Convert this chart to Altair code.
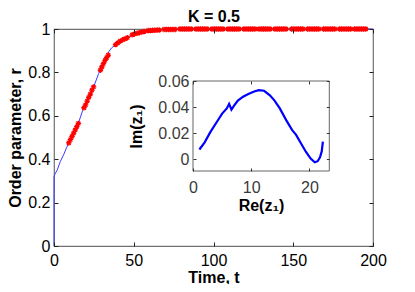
import altair as alt
import pandas as pd

FONT = "Liberation Sans"

# ---- main curve: order parameter r vs time t ----
line_t = [0, 0, 0, 0.5, 2, 4, 6, 8, 10, 12, 15, 18, 20, 22, 25, 28, 30, 32, 34.3, 36,
          38.5, 41, 44, 47, 50, 55, 60, 65, 70, 80, 200]
line_r = [0, 0.19, 0.32, 0.33, 0.35, 0.39, 0.42, 0.455, 0.49, 0.52, 0.56, 0.625, 0.655,
          0.69, 0.736, 0.795, 0.825, 0.855, 0.895, 0.912, 0.927, 0.94, 0.952, 0.962,
          0.975, 0.986, 0.993, 0.997, 0.999, 1.0, 1.0]

# ---- red markers ----
marker_t = [
    9.3, 10.3, 11.3, 12.3, 13.3, 14.3, 15.3,
    18.8, 19.8, 20.8, 21.8, 22.8, 23.8, 24.8,
    29.1, 30, 31, 32, 33, 34,
    38.6, 40, 41.5, 43, 44.5, 46,
    49, 50.5, 52, 53.5, 55, 56.5,
    59, 60.4, 61.8, 63.2, 64.6, 66,
    69, 70.4, 71.8, 73.2, 74.6, 76,
    79, 80.4, 81.8, 83.2, 84.6, 86,
    89, 90.4, 91.8, 93.2, 94.6, 96,
    99, 100.4, 101.8, 103.2, 104.6, 106,
    109, 110.4, 111.8, 113.2, 114.6, 116,
    119, 120.4, 121.8, 123.2, 124.6, 126,
    128.5, 129.9, 131.3, 132.7, 134.1, 135.5,
    138.5, 139.9, 141.3, 142.7, 144.1, 145.5,
    149, 150.4, 151.8, 153.2, 154.6, 156,
    159, 160.4, 161.8, 163.2, 164.6, 166,
    169, 170.4, 171.8, 173.2, 174.6, 176,
    179, 180.4, 181.8, 183.2, 184.6, 186,
    188.5, 189.9, 191.3, 192.7, 194.1, 195.5,
]
marker_r = [
    0.475, 0.49, 0.505, 0.52, 0.535, 0.55, 0.565,
    0.637, 0.65, 0.668, 0.685, 0.70, 0.718, 0.733,
    0.81, 0.825, 0.84, 0.855, 0.868, 0.88,
    0.928, 0.936, 0.944, 0.95, 0.955, 0.96,
    0.973, 0.977, 0.98, 0.983, 0.986, 0.988,
    0.993, 0.993, 0.994, 0.994, 0.995, 0.995,
    0.998, 0.998, 0.998, 0.998, 0.998, 0.998,
] + [1.0] * 72

# ---- inset: Im(z1) vs Re(z1) ----
inset_re = [1.1, 2, 3, 4, 5, 5.8, 6.2, 6.6, 7.2, 7.7, 8.6, 9.5, 10.5, 11.3, 12.2, 13.2,
            14, 14.9, 16, 17, 17.7, 18.5, 19.4, 20.2, 20.9, 21.4, 21.8, 22.1, 22.3]
inset_im = [0.0075, 0.013, 0.021, 0.028, 0.035, 0.039, 0.0425, 0.038, 0.042, 0.045,
            0.048, 0.050, 0.052, 0.053, 0.0525, 0.049, 0.045, 0.039, 0.030, 0.0225,
            0.0187, 0.0125, 0.0056, 0.0005, -0.0023, -0.0015, 0.0015, 0.006, 0.0135]

main_x_ticks = [0, 50, 100, 150, 200]
main_y_ticks = [0, 0.2, 0.4, 0.6, 0.8, 1]
inset_x_ticks = [0, 10, 20]
inset_y_ticks = [0, 0.02, 0.04, 0.06]
inset_frame = {"x0": [0], "x1": [23.4], "y0": [-0.009], "y1": [0.06]}

TITLE = "K = 0.5"
W, H = 319, 217

line_df = pd.DataFrame({"t": line_t, "r": line_r, "i": range(len(line_t))})
mark_df = pd.DataFrame({"t": marker_t, "r": marker_r})
inset_df = pd.DataFrame({"re": inset_re, "im": inset_im, "i": range(len(inset_re))})
frame_df = pd.DataFrame(inset_frame)

xs_main = alt.Scale(domain=[0, 200], nice=False, zero=False)
ys_main = alt.Scale(domain=[0, 1], nice=False, zero=False)
xs_in = alt.Scale(domain=[0, 23.4], range=[139, 275.3], nice=False, zero=False)
ys_in = alt.Scale(domain=[-0.009, 0.06], range=[142, 52], nice=False, zero=False)

common = dict(domain=False, grid=False, tickColor="#222", labelFont=FONT,
              labelFontSize=16, labelColor="#000", titleFont=FONT, titleFontSize=16,
              titleFontWeight="bold", titleColor="#000",
              labelFlush=False, labelOverlap=False, zindex=2)

main_line = alt.Chart(line_df).mark_line(color="#3a3aff", strokeWidth=1).encode(
    x=alt.X("t:Q", scale=xs_main, axis=alt.Axis(
        orient="bottom", values=main_x_ticks, format="d", offset=-4, tickSize=4,
        labelPadding=6, title="Time, t", titleX=W / 2, titleY=40,
        titleBaseline="alphabetic", **common)),
    y=alt.Y("r:Q", scale=ys_main, axis=alt.Axis(
        orient="left", values=main_y_ticks, format="~g", offset=-4, tickSize=4,
        labelPadding=4, title="Order parameter, r", titleX=-38, titleY=H / 2,
        titleBaseline="alphabetic", **common)),
    order="i:Q",
)

asterisk = "M-1,0L1,0M0,-1L0,1M-0.7,-0.7L0.7,0.7M-0.7,0.7L0.7,-0.7"
markers = alt.Chart(mark_df).mark_point(
    shape=asterisk, filled=False, color="#ff0000", strokeWidth=1.3, size=30, opacity=1
).encode(
    x=alt.X("t:Q", scale=xs_main, axis=alt.Axis(
        orient="top", values=main_x_ticks, offset=-4, tickSize=4, labels=False,
        title=TITLE, titleX=W / 2, titleY=-12, titleBaseline="alphabetic",
        titleFont=FONT, titleFontSize=16, titleFontWeight="bold", titleColor="#000",
        domain=False, grid=False, tickColor="#222", zindex=2)),
    y=alt.Y("r:Q", scale=ys_main, axis=alt.Axis(
        orient="right", values=main_y_ticks, offset=-4, tickSize=4, labels=False,
        title=None, domain=False, grid=False, tickColor="#222", zindex=2)),
)

in_common = dict(common)
in_common.update(labelColor="#3a3a3a", tickColor="#333")

frame = alt.Chart(frame_df).mark_rect(fill="white", stroke="#666", strokeWidth=1).encode(
    x=alt.X("x0:Q", scale=xs_in, axis=alt.Axis(
        orient="top", values=inset_x_ticks, offset=-55, tickSize=3, labels=False,
        title=None, domain=False, grid=False, tickColor="#333", zindex=2)),
    x2="x1:Q",
    y=alt.Y("y0:Q", scale=ys_in, axis=alt.Axis(
        orient="right", values=inset_y_ticks, offset=-46.7, tickSize=3, labels=False,
        title=None, domain=False, grid=False, tickColor="#333", zindex=2)),
    y2="y1:Q",
)

inset_line = alt.Chart(inset_df).mark_line(color="#0000ff", strokeWidth=2.2).encode(
    x=alt.X("re:Q", scale=xs_in, axis=alt.Axis(
        orient="bottom", values=inset_x_ticks, format="d", offset=-78, tickSize=3,
        labelPadding=8, title="Re(z₁)", titleX=207, titleY=42,
        titleBaseline="alphabetic", **in_common)),
    y=alt.Y("im:Q", scale=ys_in, axis=alt.Axis(
        orient="left", values=inset_y_ticks, format="~g", offset=-142, tickSize=3,
        labelPadding=4, title="Im(z₁)", titleX=-55, titleY=97,
        titleBaseline="alphabetic", **in_common)),
    order="i:Q",
)

chart = alt.layer(main_line, markers, frame, inset_line).resolve_scale(
    x="independent", y="independent"
).resolve_axis(
    x="independent", y="independent"
).properties(
    width=W, height=H,
    autosize=alt.AutoSizeParams(type="none"),
    padding={"left": 46, "top": 21, "right": 34, "bottom": 38},
).configure_view(stroke="#707070", strokeWidth=1.2)

chart.save("out.html", embed_options={"renderer": "svg", "actions": False})
